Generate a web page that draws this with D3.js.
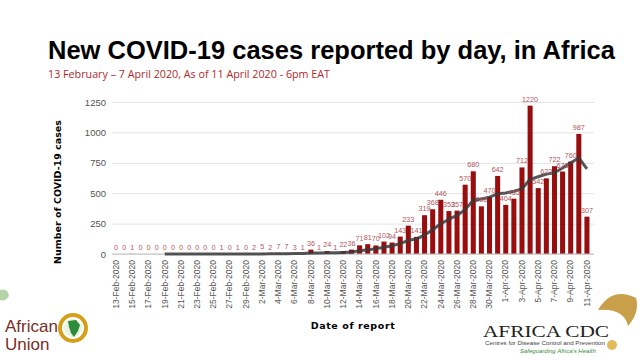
<!DOCTYPE html>
<html><head><meta charset="utf-8">
<script src="https://cdn.jsdelivr.net/npm/d3@7"></script>
<style>body{margin:0;background:#fff}svg{display:block}</style>
</head><body>
<script>
const dates = ["13-Feb-2020","14-Feb-2020","15-Feb-2020","16-Feb-2020","17-Feb-2020","18-Feb-2020","19-Feb-2020","20-Feb-2020","21-Feb-2020","22-Feb-2020","23-Feb-2020","24-Feb-2020","25-Feb-2020","26-Feb-2020","27-Feb-2020","28-Feb-2020","29-Feb-2020",
"1-Mar-2020","2-Mar-2020","3-Mar-2020","4-Mar-2020","5-Mar-2020","6-Mar-2020","7-Mar-2020","8-Mar-2020","9-Mar-2020","10-Mar-2020","11-Mar-2020","12-Mar-2020","13-Mar-2020","14-Mar-2020","15-Mar-2020","16-Mar-2020","17-Mar-2020","18-Mar-2020","19-Mar-2020","20-Mar-2020","21-Mar-2020","22-Mar-2020","23-Mar-2020","24-Mar-2020","25-Mar-2020","26-Mar-2020","27-Mar-2020","28-Mar-2020","29-Mar-2020","30-Mar-2020","31-Mar-2020",
"1-Apr-2020","2-Apr-2020","3-Apr-2020","4-Apr-2020","5-Apr-2020","6-Apr-2020","7-Apr-2020","8-Apr-2020","9-Apr-2020","10-Apr-2020","11-Apr-2020"];
const cases = [0,0,1,0,0,0,0,0,0,0,0,0,0,1,0,1,0,2,5,2,7,7,3,1,36,
1,24,1,22,36, 71,81,70,102,94, 143,233,141,319,368, 446,353,357,570,680,
392,470,642,404,455, 712,1220,542,622,722, 678,760,987,307];
// trend line (moving-average curve), starting at the 7th day
const trend = [null,null,null,null,null,null,0,0,0,0,0,0,0,0,0,0,0,1,1,2,2,3,4,4,9,
8,11,10,13,17, 27,34,44,55,68, 85,113,123,157,200, 249,286,317,365,442,
452,467,495,502,516, 536,614,635,657,668, 707,751,790,700];
const yTicks = [0,250,500,750,1000,1250];

const W=640,H=360;
const svg=d3.select("body").append("svg").attr("width",W).attr("height",H)
  .style("font-family","'Liberation Sans', Arial, sans-serif");

const x=d3.scaleBand().domain(dates).range([112,591]).paddingInner(0.38).paddingOuter(0.19);
const y=d3.scaleLinear().domain([0,1250]).range([254,102]);

// title
svg.append("text").attr("x",48).attr("y",59).attr("font-size",25.5).attr("font-weight","bold")
  .attr("fill","#000").text("New COVID-19 cases reported by day, in Africa");
svg.append("text").attr("x",48).attr("y",78).attr("font-size",10.5).attr("fill","#b02a2a")
  .style("font-family","'Open Sans', sans-serif").attr("textLength",282).attr("lengthAdjust","spacingAndGlyphs")
  .text("13 February \u2013 7 April 2020,  As of 11 April 2020 - 6pm EAT");

// gridlines
const yAxis=d3.axisLeft(y).tickValues(yTicks).tickFormat(d3.format("d")).tickSize(-(594-112)).tickPadding(6);
const gy=svg.append("g").attr("transform","translate(112,0)").call(yAxis);
gy.select(".domain").remove();
gy.selectAll(".tick line").attr("stroke","#e3e3e3").attr("stroke-width",1);
gy.selectAll(".tick text").attr("fill","#555").attr("font-size",9.5)
  .style("font-family","'Liberation Sans', Arial, sans-serif");

// bars
svg.append("g").selectAll("rect").data(cases).join("rect")
  .attr("x",(d,i)=>x(dates[i])).attr("width",x.bandwidth())
  .attr("y",d=>y(d)).attr("height",d=>y(0)-y(d)).attr("fill","#980d0d");

// baseline
svg.append("line").attr("x1",112).attr("x2",594).attr("y1",y(0)).attr("y2",y(0))
  .attr("stroke","#bdbdbd").attr("stroke-width",1.2);

// trend
const line=d3.line().defined(d=>d!=null).x((d,i)=>x(dates[i])+x.bandwidth()/2).y(d=>y(d)).curve(d3.curveLinear);
svg.append("path").datum(trend).attr("d",line).attr("fill","none")
  .attr("stroke","#3a3a3a").attr("stroke-opacity",0.85).attr("stroke-width",3).attr("stroke-linejoin","round");

// value labels
svg.append("g").selectAll("text").data(cases).join("text")
  .attr("x",(d,i)=>x(dates[i])+x.bandwidth()/2).attr("y",d=>y(d)-4)
  .attr("text-anchor","middle").attr("font-size",7.2).attr("fill","#b0555c").text(d=>d);

// x axis labels (every other date)
const xAxis=d3.axisBottom(x).tickValues(dates.filter((d,i)=>i%2===0)).tickSize(0).tickPadding(0);
const gx=svg.append("g").attr("transform",`translate(0,${y(0)})`).call(xAxis);
gx.select(".domain").remove();
gx.selectAll(".tick text").attr("fill","#555").attr("font-size",8.5)
  .style("font-family","'Liberation Sans', Arial, sans-serif")
  .attr("text-anchor","end").attr("dy","0.32em").attr("transform","translate(0,6) rotate(-90)").attr("x",0).attr("y",0);

// axis titles
svg.append("text").attr("transform","translate(61,192) rotate(-90)").attr("text-anchor","middle")
  .attr("font-size",9.5).attr("font-weight","900").style("font-family","'DejaVu Sans', sans-serif")
  .attr("fill","#000").text("Number of COVID-19 cases");
svg.append("text").attr("x",353).attr("y",329).attr("text-anchor","middle")
  .attr("font-size",9.5).attr("font-weight","900").style("font-family","'DejaVu Sans', sans-serif")
  .attr("fill","#000").attr("letter-spacing",0.6).text("Date of report");

// African Union logo (simplified)
const au=svg.append("g");
au.append("circle").attr("cx",73).attr("cy",328).attr("r",13).attr("fill","none").attr("stroke","#d4a017").attr("stroke-width",4);
au.append("circle").attr("cx",73).attr("cy",328).attr("r",9).attr("fill","#e8f3e0");
au.append("path").attr("d","M68,321 L76,320 L80,325 L78,331 L74,337 L71,333 L69,327 Z").attr("fill","#2e8b3a");
au.append("text").attr("x",5).attr("y",332).attr("font-size",17).attr("fill","#7b2d26")
  .style("font-family","'Liberation Sans', Arial, sans-serif").text("African");
au.append("text").attr("x",5).attr("y",350).attr("font-size",17).attr("fill","#7b2d26")
  .style("font-family","'Liberation Sans', Arial, sans-serif").text("Union");
au.append("path").attr("d","M0,290 Q8,288 9,296 Q5,302 0,300 Z").attr("fill","#6aa84f").attr("opacity",0.5);

// Africa CDC logo (simplified)
const cdc=svg.append("g");
cdc.append("path").attr("d","M598,310 Q612,286 636,298 Q640,312 628,326 Q624,308 598,310 Z").attr("fill","#c9a04a");
cdc.append("text").attr("x",483).attr("y",337).attr("font-size",17).attr("fill","#222")
  .style("font-family","'Liberation Serif', serif").attr("textLength",126).attr("lengthAdjust","spacingAndGlyphs").text("AFRICA CDC");
cdc.append("text").attr("x",485).attr("y",345).attr("font-size",5.5).attr("fill","#444")
  .attr("textLength",120).attr("lengthAdjust","spacingAndGlyphs").text("Centres for Disease Control and Prevention");
cdc.append("text").attr("x",520).attr("y",353).attr("font-size",6).attr("fill","#3c8a3c").attr("font-style","italic")
  .text("Safeguarding Africa\u2019s Health");
cdc.append("circle").attr("cx",612).attr("cy",345).attr("r",5).attr("fill","#d4a017").attr("opacity",0.7);
</script>
</body></html>
